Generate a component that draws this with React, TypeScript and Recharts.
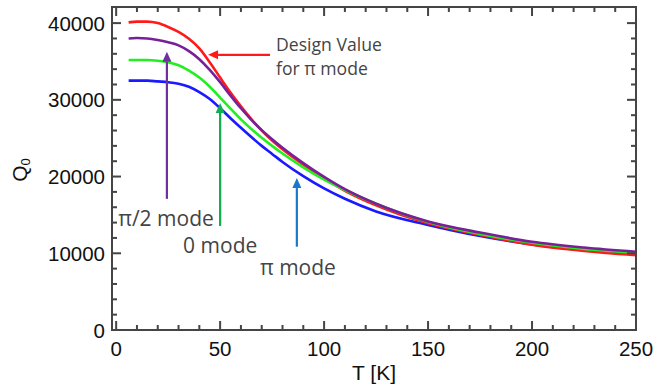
import React from 'react';
import { LineChart, Line, XAxis, YAxis, ReferenceLine, ReferenceDot } from 'recharts';

// Temperature grid (K)
const temperatures = [6, 10, 15, 20, 25, 30, 35, 40, 45, 50, 55, 60, 65, 70, 75, 80, 90, 100, 110, 125, 150, 175, 200, 225, 250];
// Q0 for the design value (pi mode, red)
const designPiMode = [40100, 40200, 40200, 40000, 39500, 38850, 37950, 36700, 34900, 32900, 30950, 29150, 27500, 26000, 24700, 23550, 21550, 19750, 18150, 16250, 13900, 12400, 11100, 10300, 9750];
// Q0 for pi/2 mode (purple)
const piHalfMode = [38000, 38050, 38000, 37800, 37500, 37100, 36350, 35300, 33900, 32300, 30550, 28900, 27400, 26050, 24850, 23750, 21750, 19950, 18350, 16450, 14150, 12700, 11500, 10750, 10200];
// Q0 for 0 mode (green)
const zeroMode = [35200, 35200, 35200, 35100, 34900, 34500, 33800, 32900, 31700, 30300, 28850, 27450, 26200, 25050, 24000, 23000, 21200, 19600, 18250, 16450, 14075, 12525, 11375, 10575, 10075];
// Q0 for pi mode (blue)
const piMode = [32500, 32500, 32500, 32400, 32300, 32100, 31700, 31000, 30100, 28900, 27600, 26350, 25150, 24000, 22950, 21900, 20050, 18450, 17100, 15450, 13700, 12250, 11150, 10400, 9900];

const xTicks = [0, 10, 20, 30, 40, 50, 60, 70, 80, 90, 100, 110, 120, 130, 140, 150, 160, 170, 180, 190, 200, 210, 220, 230, 240, 250];
const xLabelTicks = [0, 50, 100, 150, 200, 250];
const yTicks = [0, 2000, 4000, 6000, 8000, 10000, 12000, 14000, 16000, 18000, 20000, 22000, 24000, 26000, 28000, 30000, 32000, 34000, 36000, 38000, 40000];
const yLabelTicks = [0, 10000, 20000, 30000, 40000];

const X_DOMAIN = [-2, 250];
const Y_DOMAIN = [0, 42100];

// Annotation arrows: [fromT, fromQ, toT, toQ] (tip at "to")
const arrowRed = [74, 35870, 44.2, 35870];
const arrowPurple = [24.4, 17090, 24.4, 36260];
const arrowGreen = [50, 13560, 50, 29600];
const arrowBlue = [86.9, 10860, 86.9, 19800];

// Annotation texts: [T, Q, text, size]
const notes: [number, number, string, number][] = [
  [76.9, 37300, 'Design Value', 17.6],
  [76.9, 34170, 'for π mode', 17.6],
  [1.0, 14600, 'π/2 mode', 21],
  [32.2, 11090, '0 mode', 21],
  [69.2, 8200, 'π mode', 21],
];

const data = temperatures.map((t, i) => ({
  T: t,
  red: designPiMode[i],
  purple: piHalfMode[i],
  green: zeroMode[i],
  blue: piMode[i],
}));

const AX = '#454545';
const NUM_FONT = '"Liberation Sans", Arial, sans-serif';
const NOTE_FONT = '"Open Sans", "Noto Sans", sans-serif';

const BottomLabel = (props: any) => {
  const x = Number(props.x);
  const y = Number(props.y);
  const v = props.payload.value;
  if (!xLabelTicks.includes(v)) return <g />;
  return (
    <text x={x} y={y + 25.5} textAnchor="middle" fontSize={20.5} fontFamily={NUM_FONT} fill="#111">
      {v}
    </text>
  );
};

const LeftLabel = (props: any) => {
  const x = Number(props.x);
  const y = Number(props.y);
  const v = props.payload.value;
  if (!yLabelTicks.includes(v)) return <g />;
  return (
    <text x={x - 7} y={y + 7.5} textAnchor="end" fontSize={20.5} fontFamily={NUM_FONT} fill="#111">
      {v}
    </text>
  );
};

// Frame ticks: the reference segment runs from (x0,y0) to (x1,y1) in data space,
// its pixel ends give the linear scale used to place every inward tick.
const FRAME_SEG = [0, 0, 250, 40000];
const frameShape = (p: any) => {
  const { x1, y1, x2, y2 } = p;
  const sx = (v: number) => x1 + ((v - FRAME_SEG[0]) / (FRAME_SEG[2] - FRAME_SEG[0])) * (x2 - x1);
  const sy = (v: number) => y1 + ((v - FRAME_SEG[1]) / (FRAME_SEG[3] - FRAME_SEG[1])) * (y2 - y1);
  const left = sx(X_DOMAIN[0]);
  const right = sx(X_DOMAIN[1]);
  const bottom = sy(Y_DOMAIN[0]);
  const top = sy(Y_DOMAIN[1]);
  const rects: React.ReactNode[] = [];
  xTicks.forEach((v) => {
    const len = xLabelTicks.includes(v) ? 9 : 5;
    const x = sx(v);
    rects.push(<rect key={'xb' + v} x={x - 1} y={bottom - len} width={2} height={len} fill={AX} />);
    rects.push(<rect key={'xt' + v} x={x - 1} y={top} width={2} height={len} fill={AX} />);
  });
  yTicks.forEach((v) => {
    const len = yLabelTicks.includes(v) ? 9 : 5;
    const y = sy(v);
    rects.push(<rect key={'yl' + v} x={left} y={y - 1} width={len} height={2} fill={AX} />);
    rects.push(<rect key={'yr' + v} x={right - len} y={y - 1} width={len} height={2} fill={AX} />);
  });
  return (
    <g>
      <rect x={left - 1} y={top - 1} width={right - left + 2} height={2} fill={AX} />
      <rect x={left - 1} y={bottom - 1} width={right - left + 2} height={2} fill={AX} />
      <rect x={left - 1} y={top - 1} width={2} height={bottom - top + 2} fill={AX} />
      <rect x={right - 1} y={top - 1} width={2} height={bottom - top + 2} fill={AX} />
      {rects}
    </g>
  );
};

const makeArrow = (color: string) => (p: any) => {
  const { x1, y1, x2, y2 } = p;
  const dx = x2 - x1;
  const dy = y2 - y1;
  const len = Math.sqrt(dx * dx + dy * dy) || 1;
  const ux = dx / len;
  const uy = dy / len;
  const hl = 10;
  const hw = 4.5;
  const bx = x2 - ux * hl;
  const by = y2 - uy * hl;
  const px = -uy;
  const py = ux;
  return (
    <g>
      <line x1={x1} y1={y1} x2={bx} y2={by} stroke={color} strokeWidth={2.2} />
      <polygon
        points={`${x2},${y2} ${bx + px * hw},${by + py * hw} ${bx - px * hw},${by - py * hw}`}
        fill={color}
      />
    </g>
  );
};

const arrowSeg = (a: number[]) => [
  { x: a[0], y: a[1] },
  { x: a[2], y: a[3] },
];

const makeNote = (text: string, size: number) => (p: any) => (
  <text x={p.cx} y={p.cy} dominantBaseline="central" textAnchor="start" fontSize={size} fontFamily={NOTE_FONT} fill="#444">
    {text}
  </text>
);

const YLabel = () => (
  <text transform="rotate(-90, 27, 170)" x={27} y={170} textAnchor="middle" fontSize={21} fontFamily={NUM_FONT} fill="#111">
    Q<tspan fontSize={13} dy={3}>0</tspan>
  </text>
);

export default function App() {
  return (
    <div style={{ position: 'absolute', left: 0, top: 0, width: 656, height: 389, background: '#fff' }}>
      <LineChart width={656} height={389} data={data} margin={{ top: 6, right: 19, bottom: 0, left: 0 }}>
        <XAxis
          xAxisId="b"
          dataKey="T"
          type="number"
          domain={X_DOMAIN}
          ticks={xTicks}
          interval={0}
          allowDataOverflow
          height={59}
          tickSize={0}
          tickMargin={0}
          tickLine={false}
          axisLine={{ stroke: AX, strokeWidth: 2 }}
          tick={BottomLabel}
          label={{ value: 'T [K]', position: 'insideBottom', offset: 9, fontSize: 21, fontFamily: NUM_FONT, fill: '#111' }}
        />
        <XAxis
          xAxisId="t"
          orientation="top"
          dataKey="T"
          type="number"
          domain={X_DOMAIN}
          ticks={xTicks}
          allowDataOverflow
          height={1}
          tickLine={false}
          axisLine={{ stroke: AX, strokeWidth: 2 }}
          tick={false}
        />
        <YAxis
          yAxisId="l"
          type="number"
          domain={Y_DOMAIN}
          ticks={yTicks}
          interval={0}
          allowDataOverflow
          width={112}
          tickSize={0}
          tickMargin={0}
          tickLine={false}
          axisLine={{ stroke: AX, strokeWidth: 2 }}
          tick={LeftLabel}
          label={{ content: () => <YLabel /> }}
        />
        <YAxis
          yAxisId="r"
          orientation="right"
          type="number"
          domain={Y_DOMAIN}
          ticks={yTicks}
          allowDataOverflow
          width={1}
          tickLine={false}
          axisLine={{ stroke: AX, strokeWidth: 2 }}
          tick={false}
        />

        <Line xAxisId="b" yAxisId="l" type="monotone" dataKey="blue" stroke="#1a1aff" strokeWidth={2.6} dot={false} isAnimationActive={false} />
        <Line xAxisId="b" yAxisId="l" type="monotone" dataKey="red" stroke="#ff1a1a" strokeWidth={2.6} dot={false} isAnimationActive={false} />
        <Line xAxisId="b" yAxisId="l" type="monotone" dataKey="green" stroke="#22ee22" strokeWidth={2.6} dot={false} isAnimationActive={false} />
        <Line xAxisId="b" yAxisId="l" type="monotone" dataKey="purple" stroke="#7a1f9a" strokeWidth={2.6} dot={false} isAnimationActive={false} />

        <ReferenceLine xAxisId="b" yAxisId="l" segment={arrowSeg(FRAME_SEG)} shape={frameShape} />

        <ReferenceLine xAxisId="b" yAxisId="l" segment={arrowSeg(arrowRed)} shape={makeArrow('#ff1a1a')} />
        <ReferenceLine xAxisId="b" yAxisId="l" segment={arrowSeg(arrowPurple)} shape={makeArrow('#7030a0')} />
        <ReferenceLine xAxisId="b" yAxisId="l" segment={arrowSeg(arrowGreen)} shape={makeArrow('#10b050')} />
        <ReferenceLine xAxisId="b" yAxisId="l" segment={arrowSeg(arrowBlue)} shape={makeArrow('#1a78c8')} />

        {notes.map((n, i) => (
          <ReferenceDot key={i} xAxisId="b" yAxisId="l" x={n[0]} y={n[1]} r={0} shape={makeNote(n[2], n[3])} />
        ))}
      </LineChart>
    </div>
  );
}
